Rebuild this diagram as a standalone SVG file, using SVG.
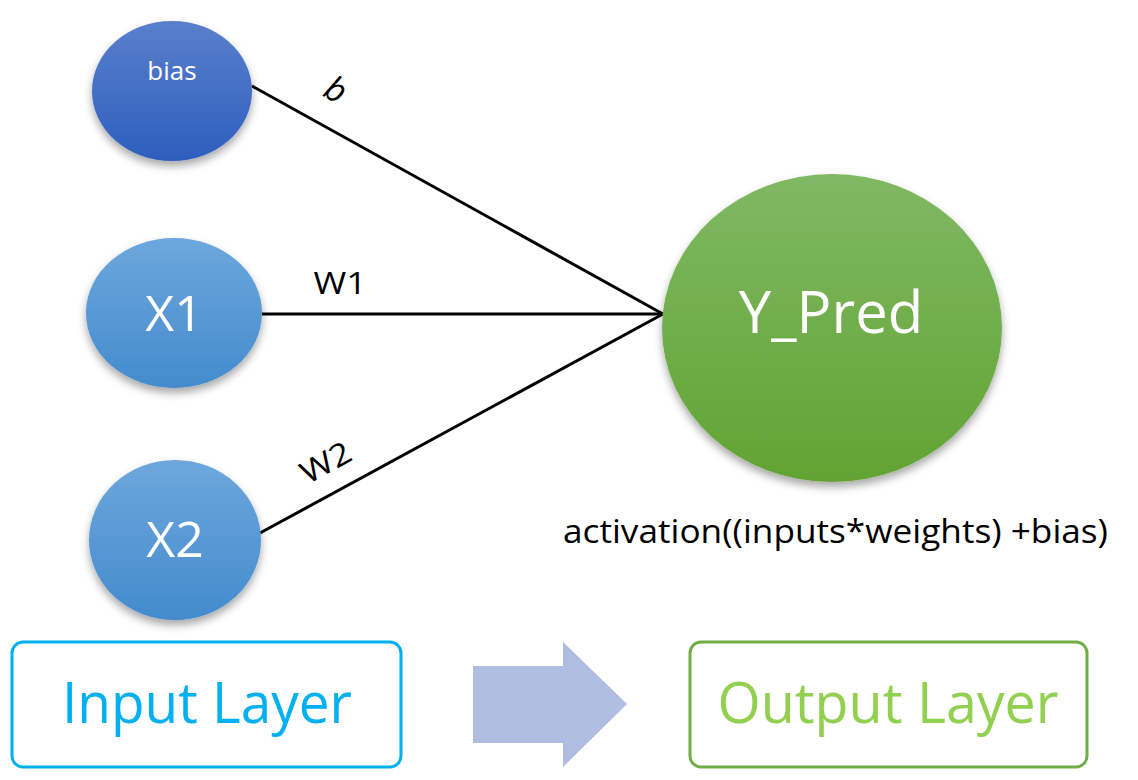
<svg xmlns="http://www.w3.org/2000/svg" width="1138" height="780" viewBox="0 0 1138 780">
<style>
.t{font-family:"Open Sans","Liberation Sans",sans-serif;}
.w{fill:#ffffff;}
.k{fill:#000000;}
.edge{stroke:#000;stroke-width:3;fill:none;}
</style>
<defs>
<linearGradient id="gBias" x1="0" y1="0" x2="0" y2="1"><stop offset="0" stop-color="#5A7FCC"/><stop offset="1" stop-color="#2E5EBE"/></linearGradient>
<linearGradient id="gX" x1="0" y1="0" x2="0" y2="1"><stop offset="0" stop-color="#6DA7DD"/><stop offset="1" stop-color="#448BCD"/></linearGradient>
<linearGradient id="gY" x1="0" y1="0" x2="0" y2="1"><stop offset="0" stop-color="#80B864"/><stop offset="1" stop-color="#62A333"/></linearGradient>
<filter id="sh" x="-20%" y="-20%" width="140%" height="150%"><feDropShadow dx="0" dy="5" stdDeviation="4" flood-color="#000" flood-opacity="0.35"/></filter>
</defs>
<rect width="1138" height="780" fill="#fff"/>
<g id="connectors">
<line class="edge" x1="252" y1="86" x2="663" y2="314"/>
<line class="edge" x1="262" y1="314" x2="663" y2="314"/>
<line class="edge" x1="260" y1="533" x2="663" y2="314"/>
<text class="t k" font-size="34" font-style="italic" transform="translate(330,100) rotate(29)" text-anchor="middle">b</text>
<text class="t k" font-size="31" x="340" y="294" text-anchor="middle" textLength="53" lengthAdjust="spacingAndGlyphs">W1</text>
<text class="t k" font-size="31" transform="translate(331,472) rotate(-29)" text-anchor="middle" textLength="53" lengthAdjust="spacingAndGlyphs">W2</text>
</g>
<g id="bias">
<ellipse cx="172" cy="91" rx="80" ry="70" fill="url(#gBias)" filter="url(#sh)"/>
<text class="t w" font-size="26" x="172" y="80" text-anchor="middle">bias</text>
</g>
<g id="x1">
<ellipse cx="174" cy="313" rx="88" ry="75" fill="url(#gX)" filter="url(#sh)"/>
<text class="t w" font-size="50" x="174" y="331" text-anchor="middle">X1</text>
</g>
<g id="x2">
<ellipse cx="175" cy="540" rx="86" ry="80" fill="url(#gX)" filter="url(#sh)"/>
<text class="t w" font-size="50" x="175" y="557" text-anchor="middle">X2</text>
</g>
<g id="ypred">
<ellipse cx="832" cy="328" rx="170" ry="154" fill="url(#gY)" filter="url(#sh)"/>
<text class="t w" font-size="58" x="831" y="333" text-anchor="middle">Y_Pred</text>
</g>
<g id="formula">
<text class="t k" font-size="33" x="563" y="543" textLength="545" lengthAdjust="spacingAndGlyphs">activation((inputs*weights) +bias)</text>
</g>
<g id="input-layer">
<rect x="12" y="642" width="389" height="125" rx="11" fill="#fff" stroke="#00B0F0" stroke-width="3"/>
<text class="t" font-size="56" fill="#00B0F0" x="207" y="723" text-anchor="middle" textLength="290" lengthAdjust="spacingAndGlyphs">Input Layer</text>
</g>
<g id="arrow">
<polygon points="473,666 563,666 563,642 627,704 563,767 563,743 473,743" fill="#AFBDE0"/>
</g>
<g id="output-layer">
<rect x="690" y="642" width="397" height="125" rx="11" fill="#fff" stroke="#70AD47" stroke-width="3"/>
<text class="t" font-size="56" fill="#92D050" x="888" y="723" text-anchor="middle" textLength="341" lengthAdjust="spacingAndGlyphs">Output Layer</text>
</g>
</svg>
